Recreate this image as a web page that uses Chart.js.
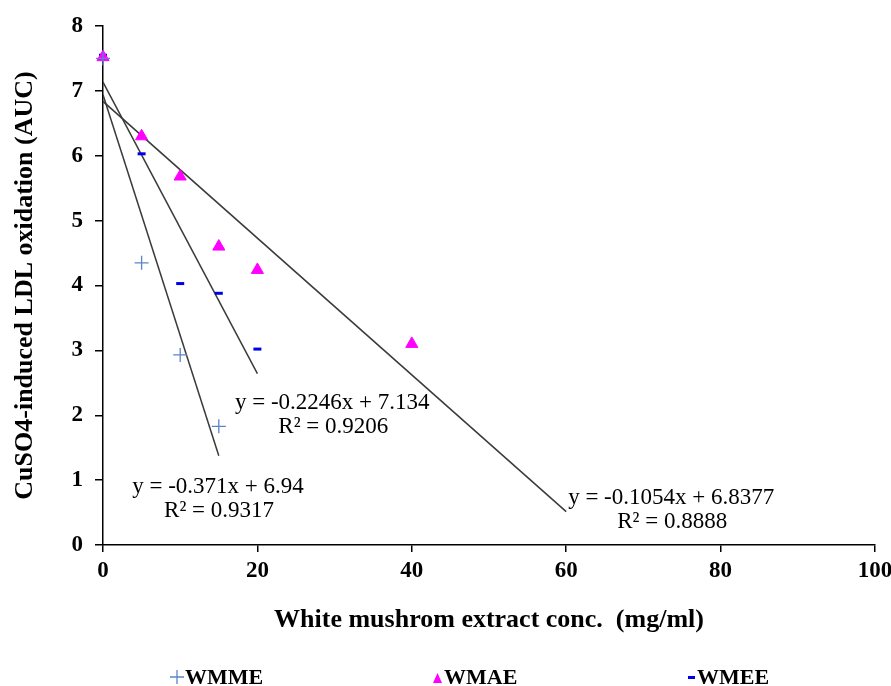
<!DOCTYPE html>
<html>
<head>
<meta charset="utf-8">
<script src="https://cdn.jsdelivr.net/npm/chart.js@4/dist/chart.umd.min.js"></script>
<style>
  html, body { margin: 0; padding: 0; background: #fff; }
  #wrap { width: 891px; height: 686px; position: relative; }
</style>
</head>
<body>
<div id="wrap"><canvas id="c" width="891" height="686"></canvas></div>
<script>
// ---- data ----
const seriesNames = ['WMME', 'WMAE', 'WMEE'];
const wmmeX = [0, 5, 10, 15];
const wmmeY = [7.5, 4.35, 2.93, 1.83];
const wmaeX = [0, 5, 10, 15, 20, 40];
const wmaeY = [7.52, 6.3, 5.68, 4.6, 4.24, 3.1];
const wmeeX = [0, 5, 10, 15, 20];
const wmeeY = [7.55, 6.03, 4.03, 3.88, 3.02];

// linear trendlines (slope, intercept, x-range) as printed on the chart
const trendSlopes = [-0.371, -0.1054, -0.2246];
const trendIntercepts = [6.94, 6.8377, 7.134];
const trendXMax = [15, 60, 20];
const trendR2 = ['0.9317', '0.8888', '0.9206'];
// label anchor points (data coordinates) for each equation label
const labelX = [14.9, 73.6, 29.7];
const labelY = [0.89, 0.72, 2.19];

const xTicks = [0, 20, 40, 60, 80, 100];
const yTicks = [0, 1, 2, 3, 4, 5, 6, 7, 8];

const colors = ['#5b84c8', '#ff00ff', '#0000e6'];

const toPts = (xs, ys) => xs.map((x, i) => ({x: x, y: ys[i]}));
const trendPts = i => [
  {x: 0, y: trendIntercepts[i]},
  {x: trendXMax[i], y: trendIntercepts[i] + trendSlopes[i] * trendXMax[i]}
];

const serif = "'Liberation Serif', 'Times New Roman', serif";

const eqPlugin = {
  id: 'eqLabels',
  afterDatasetsDraw(chart) {
    const ctx = chart.ctx;
    const xs = chart.scales.x, ys = chart.scales.y;
    ctx.save();
    ctx.fillStyle = '#000';
    ctx.font = '23px ' + serif;
    ctx.textAlign = 'center';
    ctx.textBaseline = 'middle';
    for (let i = 0; i < 3; i++) {
      const px = xs.getPixelForValue(labelX[i]);
      const py = ys.getPixelForValue(labelY[i]);
      const eq = 'y = ' + trendSlopes[i] + 'x + ' + trendIntercepts[i];
      ctx.fillText(eq, px, py);
      ctx.fillText('R\u00B2 = ' + trendR2[i], px + 1, py + 24);
    }
    ctx.restore();
  }
};

// legend drawn below the axis title, items spread like the reference
const legendPlugin = {
  id: 'spreadLegend',
  afterDraw(chart) {
    const ctx = chart.ctx;
    const y = 677;
    const starts = [170, 433, 688];
    ctx.save();
    ctx.font = 'bold 22px ' + serif;
    ctx.textBaseline = 'middle';
    ctx.textAlign = 'left';
    for (let i = 0; i < 3; i++) {
      const x = starts[i];
      ctx.strokeStyle = colors[i];
      ctx.fillStyle = colors[i];
      let tx;
      if (i === 0) {
        ctx.lineWidth = 1.3;
        ctx.beginPath();
        ctx.moveTo(x, y); ctx.lineTo(x + 14, y);
        ctx.moveTo(x + 7, y - 7); ctx.lineTo(x + 7, y + 7);
        ctx.stroke();
        tx = x + 15;
      } else if (i === 1) {
        ctx.beginPath();
        ctx.moveTo(x, y + 6); ctx.lineTo(x + 9, y + 6); ctx.lineTo(x + 4.5, y - 4);
        ctx.closePath(); ctx.fill();
        tx = x + 11;
      } else {
        ctx.fillRect(x, y - 1, 7, 3);
        tx = x + 9;
      }
      ctx.fillStyle = '#000';
      ctx.fillText(seriesNames[i], tx, y + 1);
    }
    ctx.restore();
  }
};

const trendStyle = {
  type: 'line', showLine: true, pointRadius: 0, borderColor: '#3a3a3a',
  borderWidth: 1.5, fill: false
};

new Chart(document.getElementById('c'), {
  type: 'scatter',
  data: {
    datasets: [
      { label: seriesNames[0], data: toPts(wmmeX, wmmeY), pointStyle: 'cross', clip: false,
        pointRadius: 7, borderColor: colors[0], backgroundColor: colors[0], borderWidth: 1.3 },
      { label: seriesNames[1], data: toPts(wmaeX, wmaeY), pointStyle: 'triangle', clip: false,
        pointRadius: 7, borderColor: colors[1], backgroundColor: colors[1], borderWidth: 1 },
      { label: seriesNames[2], data: toPts(wmeeX, wmeeY), pointStyle: 'line', clip: false,
        pointRadius: 4, borderColor: colors[2], backgroundColor: colors[2], borderWidth: 3 },
      Object.assign({ label: 'trend0', data: trendPts(0) }, trendStyle),
      Object.assign({ label: 'trend1', data: trendPts(1) }, trendStyle),
      Object.assign({ label: 'trend2', data: trendPts(2) }, trendStyle)
    ]
  },
  options: {
    responsive: false,
    animation: false,
    layout: { padding: { left: 0, right: 16, top: 26, bottom: 0 } },
    plugins: {
      legend: { display: false },
      tooltip: { enabled: false }
    },
    scales: {
      x: {
        type: 'linear', min: 0, max: 100,
        afterBuildTicks: s => { s.ticks = xTicks.map(v => ({value: v})); },
        ticks: { color: '#000', font: { family: serif, size: 23, weight: 'bold' }, padding: 5 },
        grid: { drawOnChartArea: false, drawTicks: true, tickLength: 7, color: '#000', lineWidth: 1.5 },
        border: { color: '#000', width: 1.5 },
        title: { display: true, text: 'White mushrom extract conc.  (mg/ml)', color: '#000',
          font: { family: serif, size: 26, weight: 'bold' }, padding: { top: 0, bottom: 50 } },
        afterFit: s => { s.height = 141; s.paddingRight = 0; s.paddingLeft = 0; }
      },
      y: {
        type: 'linear', min: 0, max: 8,
        afterBuildTicks: s => { s.ticks = yTicks.map(v => ({value: v})); },
        ticks: { color: '#000', font: { family: serif, size: 23, weight: 'bold' }, padding: 12 },
        grid: { drawOnChartArea: false, drawTicks: true, tickLength: 8, color: '#000', lineWidth: 1.5 },
        border: { color: '#000', width: 1.5 },
        title: { display: true, text: 'CuSO4-induced LDL oxidation (AUC)', color: '#000',
          font: { family: serif, size: 26, weight: 'bold' }, padding: { top: 10, bottom: 0 } },
        afterFit: s => { s.width = 103; s.paddingTop = 0; s.paddingBottom = 0; }
      }
    }
  },
  plugins: [eqPlugin, legendPlugin]
});
</script>
</body>
</html>
